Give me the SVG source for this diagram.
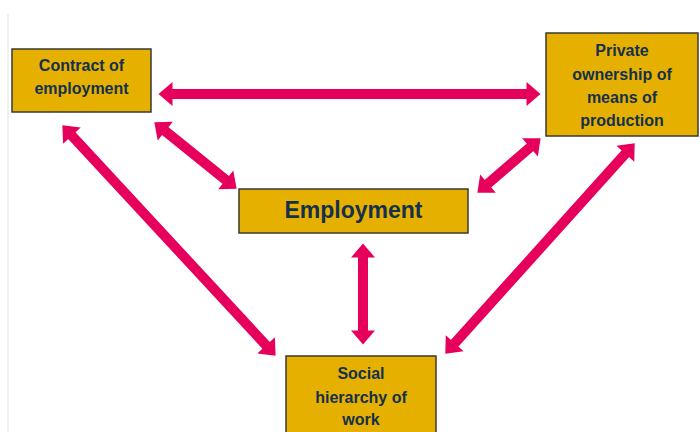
<svg xmlns="http://www.w3.org/2000/svg" width="700" height="432" viewBox="0 0 700 432">
<style>
.box{fill:#E6B000;stroke:#3a3a33;stroke-width:1.5}
.t{font-family:"Liberation Sans",Arial,sans-serif;font-weight:bold;fill:#14304D;text-anchor:middle}
.s{font-size:16px}
.b{font-size:23px}
.arr{stroke:#E6005C;stroke-width:10;fill:none;marker-start:url(#ah);marker-end:url(#ah)}
</style>
<defs>
<marker id="ah" markerUnits="userSpaceOnUse" markerWidth="15" markerHeight="25" refX="2.5" refY="12" orient="auto-start-reverse" overflow="visible">
<path d="M0,0 L14,12 L0,24 Z" fill="#E6005C"/>
</marker>
</defs>
<rect width="700" height="432" fill="#fff"/>
<line x1="8" y1="14" x2="8" y2="432" stroke="#ececec" stroke-width="1.5"/>
<g id="connectors">
<line class="arr" x1="170" y1="94" x2="529" y2="94"/>
<line class="arr" x1="163.3" y1="129.5" x2="227.7" y2="181.5"/>
<line class="arr" x1="70.2" y1="133.8" x2="267.8" y2="347.2"/>
<line class="arr" x1="531.9" y1="145.8" x2="486.1" y2="185.2"/>
<line class="arr" x1="627" y1="151.9" x2="453" y2="345.1"/>
<line class="arr" x1="363" y1="255" x2="363" y2="333"/>
</g>
<g id="contract">
<rect class="box" x="12" y="49" width="139" height="63"/>
<text class="t s" x="81.5" y="71">Contract of</text>
<text class="t s" x="81.5" y="94">employment</text>
</g>
<g id="private">
<rect class="box" x="546" y="33" width="152" height="103"/>
<text class="t s" x="622" y="56">Private</text>
<text class="t s" x="622" y="80">ownership of</text>
<text class="t s" x="622" y="103">means of</text>
<text class="t s" x="622" y="126">production</text>
</g>
<g id="employment">
<rect class="box" x="239" y="189" width="229" height="44"/>
<text class="t b" x="353.5" y="218">Employment</text>
</g>
<g id="social">
<rect class="box" x="286" y="356" width="150" height="80"/>
<text class="t s" x="361" y="379">Social</text>
<text class="t s" x="361" y="403">hierarchy of</text>
<text class="t s" x="361" y="425">work</text>
</g>
</svg>
